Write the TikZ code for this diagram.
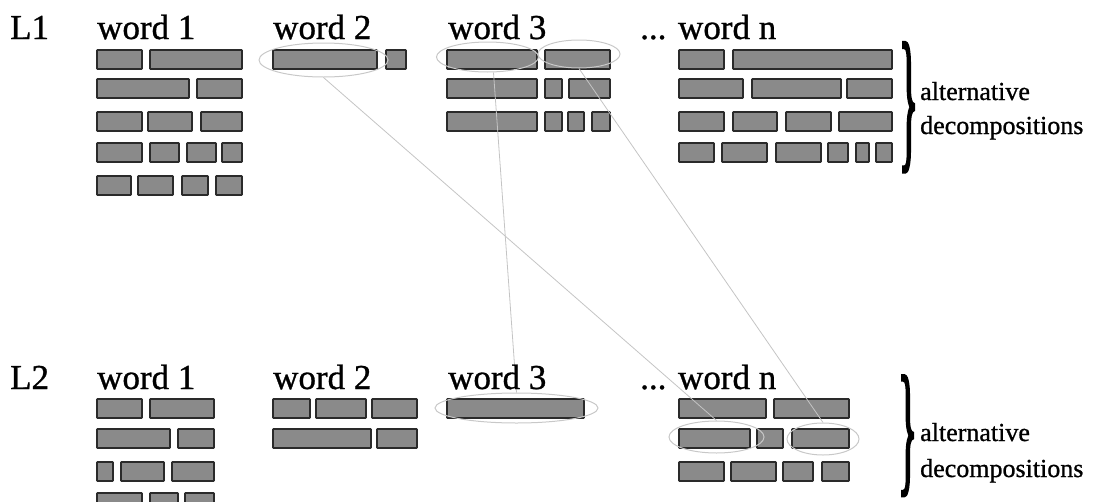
\documentclass[tikz,border=0pt]{standalone}
\usepackage{fontspec}
\setmainfont{Liberation Serif}
\newfontfamily\labelfont{Liberation Serif}[FakeBold=0.9]
\newfontfamily\bracefont{Liberation Serif}[FakeBold=3]
\usetikzlibrary{shapes.geometric}
\definecolor{blkfill}{HTML}{8A8A8A}
\definecolor{blkline}{HTML}{2A2A2A}
\definecolor{selgray}{HTML}{C8C8C8}
\definecolor{linkgray}{HTML}{C4C4C4}
\newcommand\blkrow[2]{\foreach \a/\b in {#2} {\draw[blk] (\a,#1) rectangle (\b,{#1+19});}}
\begin{document}
\begin{tikzpicture}[x=1pt,y=-1pt,
  blk/.style={draw=blkline, fill=blkfill, line width=1.6pt, rounded corners=0.6pt},
  lbl/.style={font=\labelfont\fontsize{35}{40}\selectfont, anchor=base west, inner sep=0},
  small/.style={font=\labelfont\fontsize{26}{30}\selectfont, anchor=base west, inner sep=0},
  sel/.style={ellipse, draw=selgray, line width=1pt, inner sep=0},
  link/.style={draw=linkgray, line width=0.8pt},
  brc/.style={inner sep=0, anchor=north west, font=\bracefont}]
\useasboundingbox (0,0) rectangle (1093,501);
% ---- top level: blocks
\blkrow{50}{97/142,150/242}
\blkrow{79}{97/189,197/242}
\blkrow{112}{97/142,148/192,201/242}
\blkrow{143}{97/142,150/179,187/216,222/242}
\blkrow{176}{97/131,138/173,182/208,216/242}
\blkrow{50}{273/377,386/406}
\blkrow{50}{447/537,545/610}
\blkrow{79}{447/537,545/562,569/610}
\blkrow{112}{447/537,545/562,568/584,592/610}
\blkrow{50}{679/724,733/892}
\blkrow{79}{679/743,752/841,847/892}
\blkrow{112}{679/724,733/777,786/831,839/892}
\blkrow{143}{679/714,722/767,776/821,828/848,856/869,876/892}
% ---- bottom level: blocks
\blkrow{399}{97/142,150/214}
\blkrow{429}{97/170,178/214}
\blkrow{462}{97/113,121/164,172/214}
\blkrow{493}{97/142,150/178,185/214}
\blkrow{399}{273/310,316/366,372/417}
\blkrow{429}{273/371,377/417}
\blkrow{399}{447/584}
\blkrow{399}{679/766,774/849}
\blkrow{429}{679/750,757/783,792/849}
\blkrow{462}{679/724,731/776,783/813,822/849}
% ---- selection ellipses
\node[sel, minimum width=129pt, minimum height=34pt] (e2) at (323.5,60) {};
\node[sel, minimum width=102pt, minimum height=30pt] (w3a) at (487.5,57) {};
\node[sel, minimum width=82pt, minimum height=28pt] (w3b) at (579,54) {};
\node[sel, minimum width=163pt, minimum height=30pt] (b3) at (516.5,408) {};
\node[sel, minimum width=95pt, minimum height=32pt] (bA) at (716.5,437) {};
\node[sel, minimum width=72pt, minimum height=32pt] (bB) at (823,439) {};
% ---- links
\draw[link] (e2.south) -- (bA.north);
\draw[link] ([xshift=6pt]w3a.south) -- (b3.north);
\draw[link] (w3b.south) -- (bB.north);
% ---- labels
\node[lbl] (l1) at (10,39) {L1};
\node[lbl] (t1) at (97,39) {word 1};
\node[lbl] (t2) at (273,39) {word 2};
\node[lbl] (t3) at (448,39) {word 3};
\node[lbl] (tn) at (640,39) {... word n};
\node[lbl] (l2) at (10,389) {L2};
\node[lbl] (u1) at (97,389) {word 1};
\node[lbl] (u2) at (273,389) {word 2};
\node[lbl] (u3) at (448,389) {word 3};
\node[lbl] (un) at (640,389) {... word n};
% ---- braces
\node[brc] (br1) at (899,43) {\resizebox*{19pt}{128pt}{\}}};
\node[small] (alt1) at (920,100) {alternative};
\node[small] (dec1) at (920,134) {decompositions};
\node[brc] (br2) at (898,376) {\resizebox*{19pt}{119pt}{\}}};
\node[small] (alt2) at (920,441) {alternative};
\node[small] (dec2) at (920,477) {decompositions};
\end{tikzpicture}
\end{document}
